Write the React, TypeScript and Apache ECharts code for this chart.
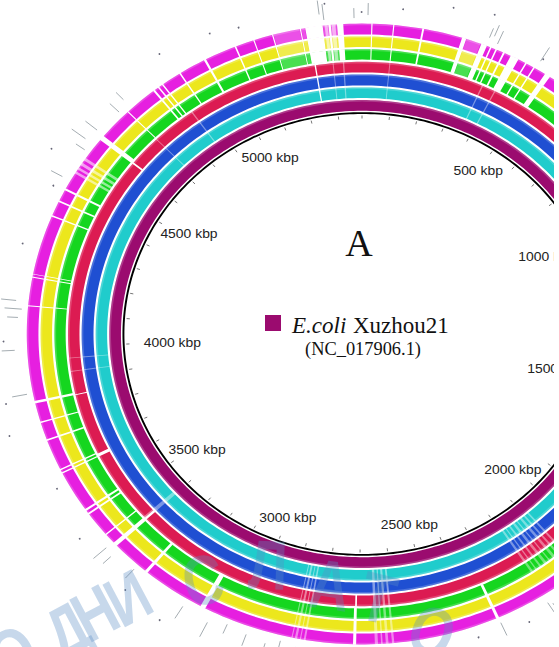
import React, { useEffect, useRef } from "react";
import * as echarts from "echarts";

const genomeKbp = 5386;
const ringNames = ["purple", "cyan", "blue", "red", "green", "yellow", "magenta"];
const tickLabels = [500, 1000, 1500, 2000, 2500, 3000, 3500, 4000, 4500, 5000];

// white breaks, in kbp along the genome
const gapsOuter = [
  [5240, 5285], [5300, 5306], [5322, 5338], [24, 27], [80, 83], [155, 160], [260, 271], [312, 327], [336, 340],
  [351, 355], [372, 377], [394, 416], [436, 440], [460, 464], [495, 510], [5226, 5229], [5153, 5156], [5103, 5106],
  [5052, 5056], [4965, 4971], [4892, 4896], [4810, 4815], [4825, 4829], [4838, 4842], [4722, 4725], [4618, 4632],
  [4452, 4458], [4416, 4421], [4372, 4376], [4196, 4199], [4205, 4207], [4116, 4119], [3846, 3853], [3790, 3794],
  [3738, 3743], [3640, 3644], [3650, 3654], [3520, 3526], [3508, 3513], [3436, 3440], [3396, 3408], [3288, 3296],
  [3110, 3124], [2708, 2716], [2332, 2340],
];
const gapsCool = [[5247, 5251]];
const gapsRed = [[3398, 3405], [3640, 3650], [4618, 4624], [3845, 3848], [2708, 2713]];
const bandsBottom = [
  [2838, 2843], [2850, 2853], [2860, 2866], [2872, 2875], [2610, 2616], [2625, 2632], [2640, 2644], [2652, 2660],
];
const bandsRight = [
  [2082, 2088], [2098, 2104], [2112, 2120], [2130, 2134], [2142, 2150], [2160, 2166], [2176, 2180], [2188, 2195],
];
const bandsLeft = [[4505, 4512], [4518, 4525], [4532, 4540], [4548, 4556], [5290, 5298], [5308, 5318]];
const bandsPale = [[5157, 5225], [5230, 5239], [5286, 5321], [272, 310]];
const bandsInner = [[3398, 3410], [4855, 4859], [4721, 4724], [3962, 3965], [3920, 3923], [80, 83], [360, 364], [400, 404], [5300, 5303], [5330, 5334]];

// outer grey marks: position in kbp
const outerLines = [
  5366, 15, 5280, 5290, 325, 335, 350, 467, 4738, 4707, 4634, 4598, 4573, 4482, 4129, 4107, 4084, 3996, 3875, 3410,
  3385, 3320, 3162, 3088, 3041, 2987, 2935, 2900, 2860, 2850, 2334, 2205, 2195,
];
const outerDots = [5385, 100, 5296, 218, 315, 470, 5080, 5010, 4880, 4530, 4450, 4280, 4020, 3860, 3780, 3610, 3540, 3470, 3300, 3190, 2400, 2270];

const ringColors = ["#9b0b6f", "#20cccc", "#1f4fd2", "#dc1b52", "#15d61f", "#ece71c", "#e61fe0"];
const ringInner = [223.2, 236, 248.6, 261.6, 274.4, 287, 299.6];
const ringOuter = [234, 246.6, 259.6, 272.2, 284.8, 297.6, 310.4];

const CX = 362, CY = 334, STRETCH = 1.08, W = 554, H = 647;
const toXY = (kbp: number, r: number) => {
  const a = (kbp / genomeKbp) * Math.PI * 2;
  return [r * Math.sin(a), r * Math.cos(a)];
};

const band = (api: any, start: number, end: number, r0: number, r1: number, fill: string, opacity = 1) => {
  const step = Math.max(1, Math.min(15, (end - start) / 4));
  const pts: number[][] = [];
  for (let k = start; k < end; k += step) pts.push(api.coord(toXY(k, r1)));
  pts.push(api.coord(toXY(end, r1)));
  pts.push(api.coord(toXY(end, r0)));
  for (let k = end - step; k > start; k -= step) pts.push(api.coord(toXY(k, r0)));
  pts.push(api.coord(toXY(start, r0)));
  return { type: "polygon", shape: { points: pts }, style: { fill, opacity } };
};

const spanRows = (rings: number[], spans: number[][], alpha: number) =>
  rings.flatMap((ring) => spans.map((s) => [ring, s[0], s[1], alpha]));

const ringRows = ringNames.map((_, i) => [i, 0, genomeKbp, 1]);
const gapRows = [
  ...spanRows([4, 5, 6], gapsOuter, 1),
  ...spanRows([1, 2, 3], gapsCool, 1),
  ...spanRows([3], gapsRed, 1),
  ...spanRows([1, 2, 3, 4, 5, 6], bandsBottom, 0.45),
  ...spanRows([1, 2, 3, 4], bandsRight, 0.4),
  ...spanRows([4, 5, 6], bandsLeft, 0.55),
  ...spanRows([4, 5, 6], bandsPale, 0.22),
  ...spanRows([1, 2, 3], bandsInner, 0.4),
];
const tickRows: number[][] = [];
for (let k = 0; k < genomeKbp; k += 100) tickRows.push([k]);

export default function App() {
  const ref = useRef<HTMLDivElement>(null);
  useEffect(() => {
    document.body.style.margin = "0";
    const chart = echarts.init(ref.current!, undefined, { renderer: "svg" });
    const wm = "rgba(90,140,195,0.34)";
    const letter = (text: string, x: number, y: number, deg: number, size = 70) => ({
      type: "text", x, y, rotation: (deg * Math.PI) / 180, scaleX: 0.8, z: 50,
      style: { text, fill: wm, font: `bold ${size}px "Liberation Sans"`, textAlign: "center", textVerticalAlign: "middle" },
    });
    chart.setOption({
      animation: false,
      grid: { left: 0, right: 0, top: 0, bottom: 0 },
      xAxis: { type: "value", show: false, min: -CX / STRETCH, max: (W - CX) / STRETCH },
      yAxis: { type: "value", show: false, min: CY - H, max: CY },
      series: [
        {
          type: "custom", coordinateSystem: "cartesian2d", silent: true, clip: false, z: 2, data: ringRows,
          renderItem: (_: any, api: any) => {
            const i = api.value(0);
            return band(api, api.value(1), api.value(2), ringInner[i], ringOuter[i], ringColors[i]);
          },
        },
        {
          type: "custom", coordinateSystem: "cartesian2d", silent: true, clip: false, z: 3, data: ringRows,
          renderItem: (_: any, api: any) => {
            const i = api.value(0);
            return band(api, api.value(1), api.value(2), ringOuter[i] - 1.6, ringOuter[i], "#ffffff", 0.2);
          },
        },
        {
          type: "custom", coordinateSystem: "cartesian2d", silent: true, clip: false, z: 3, data: gapRows,
          renderItem: (_: any, api: any) => {
            const i = api.value(0);
            return band(api, api.value(1), api.value(2), ringInner[i] - 0.5, ringOuter[i] + 0.5, "#ffffff", api.value(3));
          },
        },
        {
          type: "custom", coordinateSystem: "cartesian2d", silent: true, clip: false, z: 3, data: [[0, genomeKbp]],
          renderItem: (_: any, api: any) => band(api, 0, genomeKbp, 220, 221.8, "#000000"),
        },
        {
          type: "custom", coordinateSystem: "cartesian2d", silent: true, clip: false, z: 3, data: tickRows,
          renderItem: (_: any, api: any) => {
            const a = api.coord(toXY(api.value(0), 215.5));
            const b = api.coord(toXY(api.value(0), 218.5));
            return { type: "line", shape: { x1: a[0], y1: a[1], x2: b[0], y2: b[1] }, style: { stroke: "#777", lineWidth: 1 } };
          },
        },
        {
          type: "custom", coordinateSystem: "cartesian2d", silent: true, clip: false, z: 3, data: outerLines.map((k) => [k]),
          renderItem: (p: any, api: any) => {
            const r0 = 316 + (p.dataIndex % 3) * 3;
            const a = api.coord(toXY(api.value(0), r0));
            const b = api.coord(toXY(api.value(0), r0 + 10 + (p.dataIndex % 4) * 2));
            return { type: "line", shape: { x1: a[0], y1: a[1], x2: b[0], y2: b[1] }, style: { stroke: "#9aa3a8", lineWidth: 0.9 } };
          },
        },
        {
          type: "custom", coordinateSystem: "cartesian2d", silent: true, clip: false, z: 3, data: outerDots.map((k) => [k]),
          renderItem: (p: any, api: any) => {
            const c = api.coord(toXY(api.value(0), 322 + (p.dataIndex % 5) * 5));
            return { type: "circle", shape: { cx: c[0], cy: c[1], r: 0.9 }, style: { fill: "#667" } };
          },
        },
        {
          type: "custom", coordinateSystem: "cartesian2d", silent: true, clip: false, z: 4, data: tickLabels.map((k) => [k]),
          renderItem: (_: any, api: any) => {
            const k = api.value(0);
            const c = api.coord(toXY(k, 196));
            const s = Math.abs(Math.sin((k / genomeKbp) * Math.PI * 2));
            const inward = k < genomeKbp / 2 ? -16 * Math.pow(s, 6) : 22 * Math.pow(s, 6);
            return {
              type: "text", x: c[0] + inward, y: c[1], scaleX: 1.07,
              style: { text: `${k} kbp`, fill: "#222", font: '13px "Liberation Sans"', textAlign: "center", textVerticalAlign: "middle" },
            };
          },
        },
      ],
      graphic: [
        { type: "text", x: 359, y: 243, z: 10, style: { text: "A", fill: "#111", font: '38px "Liberation Serif"', textAlign: "center", textVerticalAlign: "middle" } },
        { type: "rect", z: 10, shape: { x: 265, y: 315, width: 16, height: 16 }, style: { fill: "#9b0b6f" } },
        { type: "text", x: 292, y: 325, z: 10, style: { text: "E.coli", fill: "#111", font: 'italic 23px "Liberation Serif"', textVerticalAlign: "middle" } },
        { type: "text", x: 353, y: 325, z: 10, style: { text: "Xuzhou21", fill: "#111", font: '23px "Liberation Serif"', textVerticalAlign: "middle" } },
        { type: "text", x: 363, y: 349, z: 10, style: { text: "(NC_017906.1)", fill: "#111", font: '18.4px "Liberation Serif"', textAlign: "center", textVerticalAlign: "middle" } },
        letter("О", 13, 653, 30),
        letter("Д", 67, 630, 28),
        letter("Н", 95, 613, 28),
        letter("И", 128, 598, 28),
        letter("С", 203, 580, 12),
        letter("Л", 268, 565, -2),
        letter("А", 330, 585, -8),
        letter("Т", 378, 598, -14),
        letter("О", 432, 632, -22),
      ],
    });
    return () => chart.dispose();
  }, []);
  return <div ref={ref} style={{ width: W, height: H }} />;
}
